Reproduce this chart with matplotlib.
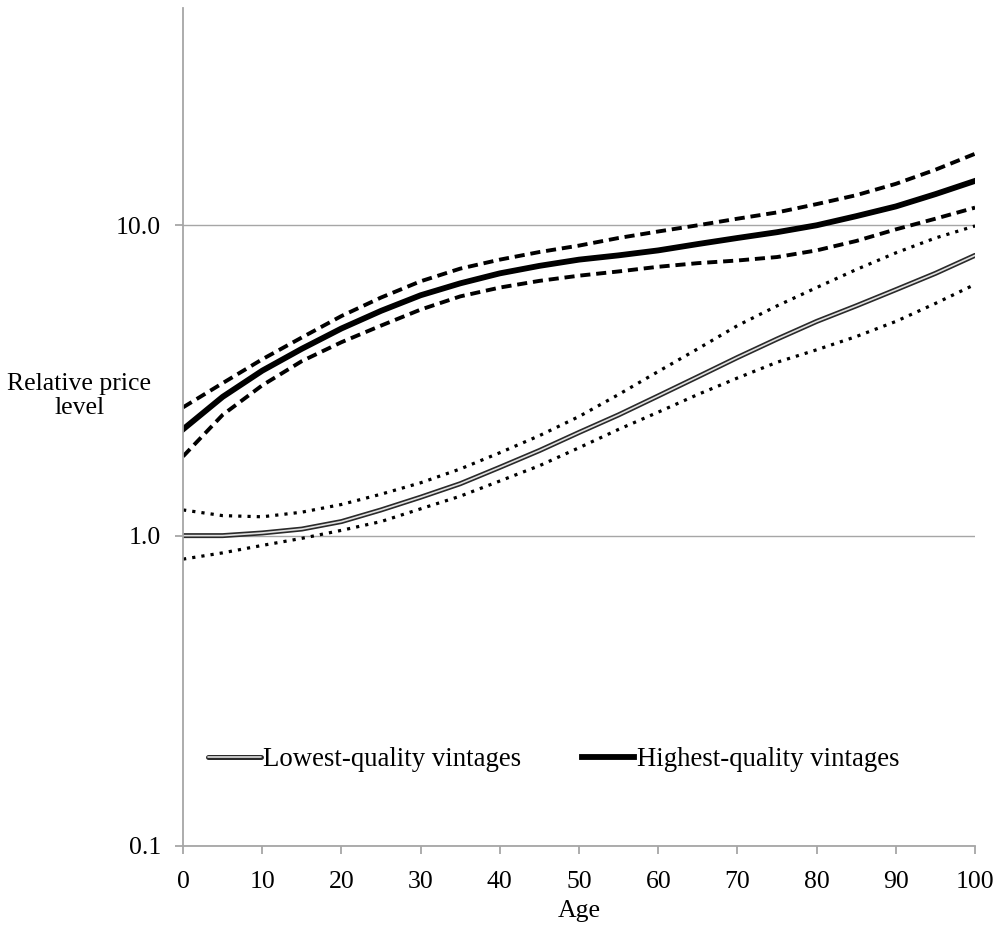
import matplotlib
matplotlib.use("Agg")
import matplotlib.pyplot as plt

# (wiek co 5 lat)
age = [0, 5, 10, 15, 20, 25, 30, 35, 40, 45, 50, 55, 60, 65, 70, 75, 80, 85, 90, 95, 100]

high_mid = [2.2, 2.8, 3.4, 4.0, 4.65, 5.3, 5.95, 6.5, 7.0, 7.4, 7.75,
            8.0, 8.3, 8.7, 9.1, 9.5, 10.0, 10.7, 11.5, 12.6, 13.9]
high_up = [2.59, 3.1, 3.7, 4.35, 5.1, 5.85, 6.6, 7.25, 7.75, 8.2, 8.6,
           9.1, 9.55, 10.0, 10.5, 11.0, 11.7, 12.5, 13.6, 15.1, 17.0]
high_lo = [1.8, 2.45, 3.05, 3.65, 4.2, 4.75, 5.35, 5.9, 6.3, 6.62, 6.88,
           7.1, 7.35, 7.55, 7.7, 7.9, 8.3, 8.9, 9.7, 10.5, 11.4]

low_mid = [1.0, 1.0, 1.02, 1.05, 1.11, 1.21, 1.33, 1.47, 1.66, 1.88, 2.15,
           2.45, 2.82, 3.25, 3.75, 4.3, 4.9, 5.5, 6.2, 7.0, 8.0]
low_up = [1.21, 1.16, 1.15, 1.19, 1.26, 1.36, 1.48, 1.64, 1.85, 2.1, 2.42,
          2.85, 3.38, 4.0, 4.75, 5.5, 6.3, 7.2, 8.15, 9.1, 9.95]
low_lo = [0.84, 0.88, 0.93, 0.98, 1.04, 1.11, 1.22, 1.34, 1.5, 1.68, 1.92,
          2.2, 2.5, 2.85, 3.22, 3.62, 3.97, 4.38, 4.9, 5.6, 6.45]

yticks = [0.1, 1.0, 10.0]
ytick_labels = ["0.1", "1.0", "10.0"]
xticks = list(range(0, 101, 10))

plt.rcParams["font.family"] = ["Liberation Serif", "DejaVu Serif"]
plt.rcParams["font.size"] = 19

fig = plt.figure(figsize=(9.97, 9.27), dpi=100)
ax = fig.add_axes([0.1836, 0.0874, 0.7944, 0.9036])

grey = "#a6a6a6"

# Przedziały ufności
dash = (0, (2.6, 1.5))
dot = (0, (1.0, 1.9))
ax.plot(age, high_up, color="black", lw=2.8, linestyle=dash)
ax.plot(age, high_lo, color="black", lw=2.8, linestyle=dash)
ax.plot(age, low_up, color="black", lw=2.3, linestyle=dot)
ax.plot(age, low_lo, color="black", lw=2.3, linestyle=dot)

# Linie główne
low_outer, = ax.plot(age, low_mid, color="#2a2a2a", lw=3.6, solid_capstyle="round")
low_inner, = ax.plot(age, low_mid, color="#e0e0e0", lw=1.2, solid_capstyle="round")
high_line, = ax.plot(age, high_mid, color="black", lw=4.2)

ax.set_yscale("log")
ax.set_ylim(0.1, 50)
ax.set_xlim(0, 100)
ax.set_yticks(yticks)
ax.set_yticklabels(ytick_labels)
ax.yaxis.set_minor_locator(matplotlib.ticker.NullLocator())
ax.set_xticks(xticks)

ax.grid(True, axis="y", color=grey, lw=1.0)
for s in ["top", "right"]:
    ax.spines[s].set_visible(False)
for s in ["left", "bottom"]:
    ax.spines[s].set_color(grey)
    ax.spines[s].set_linewidth(1.3)
ax.tick_params(axis="both", colors=grey, labelcolor="black", width=1.3, length=6, labelsize=18.5)
ax.tick_params(axis="y", pad=10)
ax.tick_params(axis="x", pad=12)

ax.set_xlabel("Age", fontsize=18.5, labelpad=5)
ax.text(-0.131, 0.537, "Relative price\nlevel", transform=ax.transAxes,
        ha="center", va="center", fontsize=18.5, linespacing=1.15)

ax.legend([(low_outer, low_inner), high_line],
          ["Lowest-quality vintages", "Highest-quality vintages"],
          loc="center", bbox_to_anchor=(0.468, 0.103), ncol=2, frameon=False,
          fontsize=19.3, handlelength=1.95, handletextpad=0.1, columnspacing=2.25)

fig.savefig("out.png", dpi=100)
plt.close(fig)
